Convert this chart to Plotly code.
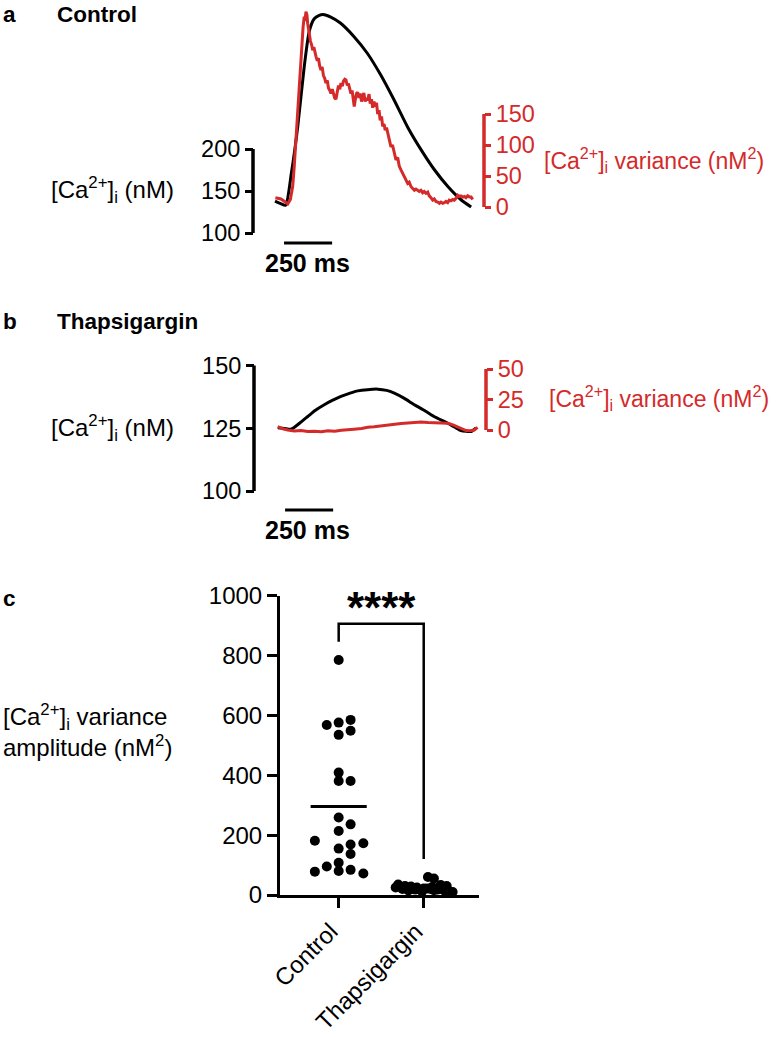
import plotly.graph_objects as go

W, H = 779, 1037
FONT = "Liberation Sans, Arial, sans-serif"
RED = "#d42a2a"

# ---------------- Panel a (Control) ----------------
a_black_t = [0, 30, 55, 85, 118, 152, 178, 204, 230, 250, 290, 340, 410, 480, 550, 620, 690, 760, 830, 900, 970, 1020]
a_black_v = [138, 135, 133, 171, 226, 298, 340, 355, 359, 360, 357, 350, 334, 314, 288, 258, 226, 199, 175, 155, 139, 131]

a_red_t = [2, 20, 31, 50, 66, 80, 92, 100, 109, 118, 126, 134, 140, 146, 152, 156, 161, 166, 170, 174, 178, 184,
           190, 196, 202, 208, 213, 220, 226, 232, 239, 245, 252, 258, 265, 272, 278, 285, 291, 298, 304, 310,
           317, 324, 330, 337, 343, 350, 356, 363, 369, 376, 382, 389, 395, 401, 406, 412, 418, 424, 430, 437,
           443, 450, 456, 462, 469, 475, 482, 489, 495, 502, 508, 515, 521, 528, 534, 541, 547, 554, 560, 567,
           573, 580, 586, 594, 603, 611, 620, 629, 638, 646, 655, 664, 672, 681, 690, 698, 707, 716, 725, 733,
           742, 750, 759, 768, 776, 785, 794, 802, 811, 820, 828, 837, 846, 855, 863, 872, 881, 889, 898, 906,
           915, 924, 932, 941, 950, 958, 967, 976, 985, 993, 1002, 1011, 1020, 1028]
a_red_v = [15, 14, 13, 9, 5, 12, 33, 65, 108, 155, 200, 240, 269, 290, 307, 300, 315, 310, 296, 288, 275, 268,
           262, 253, 258, 246, 243, 236, 240, 228, 221, 226, 212, 208, 200, 204, 192, 188, 183, 190, 180, 176,
           174, 186, 196, 190, 200, 195, 203, 206, 205, 196, 199, 190, 183, 188, 172, 162, 174, 183, 185, 176,
           183, 170, 178, 184, 170, 176, 172, 182, 167, 174, 160, 170, 162, 168, 150, 156, 140, 146, 130, 134,
           124, 128, 120, 110, 97, 100, 88, 76, 80, 66, 60, 54, 50, 44, 38, 40, 33, 30, 27, 29, 26, 25, 27, 23,
           25, 22, 24, 18, 15, 11, 13, 9, 8, 6, 8, 6, 7, 9, 7, 11, 10, 12, 11, 14, 19, 17, 18, 16, 17, 15, 18,
           16, 16, 12, 8, 3]

# ---------------- Panel b (Thapsigargin) ----------------
b_black_t = [4, 40, 73, 120, 160, 200, 246, 290, 333, 380, 420, 470, 524, 570, 610, 660, 714, 760, 801, 845, 888, 925, 957, 985, 1009, 1035]
b_black_v = [125.2, 124.9, 124.6, 127.2, 129.7, 132.2, 134.4, 136.2, 137.7, 139.0, 139.9, 140.4, 140.6, 140.1, 139.0, 137.0, 134.4, 132.4, 130.4, 128.6, 127.0, 125.4, 124.1, 123.8, 123.7, 125.2]

b_red_t = [4, 30, 56, 90, 125, 160, 194, 230, 265, 300, 335, 368, 400, 440, 472, 505, 540, 576, 610, 645, 680, 714, 750, 785, 818, 850, 888, 915, 940, 962, 983, 1005, 1026, 1043]
b_red_v = [2.7, 1.0, 0.0, -0.8, -0.5, -1.2, -1.0, -1.4, -0.6, -1.0, -0.2, 0.0, 0.6, 1.2, 2.2, 2.6, 3.4, 4.1, 4.6, 5.4, 5.8, 6.3, 6.6, 6.2, 6.0, 5.8, 5.5, 4.2, 2.7, 0.8, -0.5, -0.6, 0.0, 2.2]

# ---------------- Panel c (scatter) ----------------
categories = ["Control", "Thapsigargin"]
control_vals = [785, 585, 576, 568, 549, 535, 409, 381, 381, 259, 236, 214, 181, 173, 169, 155, 137, 108, 95, 78, 80, 84, 72]
control_jit = [0, 0.14, 0, -0.14, 0.14, 0, 0, 0, 0.14, 0, 0.14, 0, -0.28, 0.29, 0.14, 0, 0.14, 0, -0.14, -0.28, 0, 0.14, 0.29]
thaps_vals = [60, 55, 35, 30, 28, 25, 22, 20, 18, 15, 12, 10, 30, 25, 20, 15, 33, 27, 18, 12, 22, 16]
thaps_jit = [0.05, 0.12, -0.3, -0.22, -0.15, -0.08, 0.0, 0.08, 0.16, 0.24, 0.3, 0.34, 0.27, -0.33, -0.25, -0.18, 0.2, 0.1, -0.1, -0.02, 0.04, 0.12]
y_ticks_c = [0, 200, 400, 600, 800, 1000]


def px(x):
    return min(max(x / W, 0.0), 1.0)


def py(y):
    return min(max(1 - y / H, 0.0), 1.0)


fig = go.Figure()

fig.add_trace(go.Scatter(x=a_black_t, y=a_black_v, mode="lines", line=dict(color="black", width=3, shape="spline", smoothing=0.6),
                         xaxis="x", yaxis="y", showlegend=False, hoverinfo="skip"))
fig.add_trace(go.Scatter(x=a_red_t, y=a_red_v, mode="lines", line=dict(color=RED, width=3),
                         xaxis="x", yaxis="y2", showlegend=False, hoverinfo="skip"))
fig.add_trace(go.Scatter(x=b_black_t, y=b_black_v, mode="lines", line=dict(color="black", width=3, shape="spline", smoothing=0.6),
                         xaxis="x2", yaxis="y3", showlegend=False, hoverinfo="skip"))
fig.add_trace(go.Scatter(x=b_red_t, y=b_red_v, mode="lines", line=dict(color=RED, width=3),
                         xaxis="x2", yaxis="y4", showlegend=False, hoverinfo="skip"))
fig.add_trace(go.Scatter(x=[0 + j for j in control_jit], y=control_vals, mode="markers",
                         marker=dict(color="black", size=10), cliponaxis=False,
                         xaxis="x3", yaxis="y5", showlegend=False, hoverinfo="skip"))
fig.add_trace(go.Scatter(x=[1 + j for j in thaps_jit], y=thaps_vals, mode="markers",
                         marker=dict(color="black", size=10), cliponaxis=False,
                         xaxis="x3", yaxis="y5", showlegend=False, hoverinfo="skip"))

TS = 23.5
tickfont = dict(family=FONT, size=TS, color="black")
redtickfont = dict(family=FONT, size=TS, color=RED)
noax = dict(showgrid=False, zeroline=False, showline=False, automargin=False)

fig.update_layout(
    width=W, height=H, autosize=False, margin=dict(l=0, r=0, t=0, b=0, pad=0),
    paper_bgcolor="white", plot_bgcolor="white",
    font=dict(family=FONT, color="black"),
    # panel a: plot area from y=5 to y=240 px
    xaxis=dict(domain=[px(271), px(481)], range=[-20.8, 1071.2], visible=False, anchor="y", automargin=False),
    yaxis=dict(domain=[py(240), py(5)], range=[91.67, 371.43], anchor="free", position=px(253),
               tickvals=[100, 150, 200], ticks="outside", ticklen=8, tickwidth=3, tickcolor="black",
               tickfont=tickfont, **noax),
    yaxis2=dict(domain=[py(240), py(5)], range=[-53.2, 325.8], overlaying="y", side="right",
                anchor="free", position=px(484), tickvals=[0, 50, 100, 150], ticks="outside",
                ticklen=6, tickwidth=3, tickcolor=RED, tickfont=redtickfont, **noax),
    # panel b
    xaxis2=dict(domain=[px(271), px(483)], range=[-31.2, 1071.2], visible=False, anchor="y3", automargin=False),
    yaxis3=dict(domain=[py(500), py(355)], range=[96.43, 154.2], anchor="free", position=px(254),
                tickvals=[100, 125, 150], ticks="outside", ticklen=8, tickwidth=3, tickcolor="black",
                tickfont=tickfont, **noax),
    yaxis4=dict(domain=[py(500), py(355)], range=[-57.4, 61.5], overlaying="y3", side="right",
                anchor="free", position=px(486), tickvals=[0, 25, 50], ticks="outside",
                ticklen=6, tickwidth=3, tickcolor=RED, tickfont=redtickfont, **noax),
    # panel c
    xaxis3=dict(domain=[px(280), px(479)], range=[-0.69, 1.65], anchor="y5",
                tickvals=[0, 1], ticktext=categories, tickangle=-45, ticks="outside",
                ticklen=10, tickwidth=3, tickcolor="black", showline=True, linewidth=3,
                linecolor="black", showgrid=False, zeroline=False, automargin=False,
                ticklabelshift=-8,
                tickfont=dict(family=FONT, size=24, color="black")),
    yaxis5=dict(domain=[py(895), py(595.7)], range=[0, 1000], anchor="x3",
                tickvals=y_ticks_c, ticks="outside", ticklen=10, tickwidth=3, tickcolor="black",
                showline=True, linewidth=3, linecolor="black", showgrid=False, zeroline=False,
                automargin=False, tickfont=dict(family=FONT, size=24, color="black")),
)

shapes = []
shapes.append(dict(type="line", xref="paper", yref="y", x0=px(253), x1=px(253), y0=100, y1=200,
                   line=dict(color="black", width=3.5)))
shapes.append(dict(type="line", xref="paper", yref="y2", x0=px(484), x1=px(484), y0=0, y1=150,
                   line=dict(color=RED, width=3.5)))
shapes.append(dict(type="line", xref="paper", yref="y3", x0=px(254), x1=px(254), y0=100, y1=150,
                   line=dict(color="black", width=3.5)))
shapes.append(dict(type="line", xref="paper", yref="y4", x0=px(486), x1=px(486), y0=0, y1=50,
                   line=dict(color=RED, width=3.5)))
shapes.append(dict(type="line", xref="x", yref="paper", x0=47, x1=297, y0=py(243), y1=py(243),
                   line=dict(color="black", width=3)))
shapes.append(dict(type="line", xref="x2", yref="paper", x0=42, x1=292, y0=py(510), y1=py(510),
                   line=dict(color="black", width=3)))
mean_c = sum(control_vals) / len(control_vals)
shapes.append(dict(type="line", xref="x3", yref="y5", x0=-0.33, x1=0.33, y0=mean_c, y1=mean_c,
                   line=dict(color="black", width=3)))
shapes.append(dict(type="path", xref="x3", yref="y5", path="M 0,846 L 0,906 L 1,906 L 1,120",
                   line=dict(color="black", width=2.5)))
fig.update_layout(shapes=shapes)

ann = []
def text(x, y, s, size=24, color="black", xanchor="left", yanchor="middle", bold=False, align="left", xref="paper", yref="paper"):
    ann.append(dict(x=x, y=y, xref=xref, yref=yref, text=f"<b>{s}</b>" if bold else s, showarrow=False,
                    xanchor=xanchor, yanchor=yanchor, align=align,
                    font=dict(family=FONT, size=size, color=color)))

text(px(1), py(14), "a", size=22.5, bold=True)
text(px(55), py(14), "Control", size=22.5, bold=True)
text(px(1), py(321), "b", size=22.5, bold=True)
text(px(55), py(321), "Thapsigargin", size=22.5, bold=True)
text(px(1), py(598), "c", size=22.5, bold=True)

text(px(176), py(190), "[Ca<sup>2+</sup>]<sub>i</sub> (nM)", xanchor="right")
text(px(542), py(160), "[Ca<sup>2+</sup>]<sub>i</sub> variance (nM<sup>2</sup>)", size=23, color=RED)
text(px(176), py(428), "[Ca<sup>2+</sup>]<sub>i</sub> (nM)", xanchor="right")
text(px(547), py(398), "[Ca<sup>2+</sup>]<sub>i</sub> variance (nM<sup>2</sup>)", size=23, color=RED)

text(px(307), py(263), "250 ms", size=25, bold=True, xanchor="center")
text(px(307), py(530), "250 ms", size=25, bold=True, xanchor="center")

text(px(1), py(730), "[Ca<sup>2+</sup>]<sub>i</sub> variance<br>amplitude (nM<sup>2</sup>)", size=24)

text(0.5, 962, "****", size=44, bold=True, xanchor="center", xref="x3", yref="y5")

fig.update_layout(annotations=ann)

fig.write_html("out.html", config={"displayModeBar": False},
               post_script="document.body.style.margin='0px';")
